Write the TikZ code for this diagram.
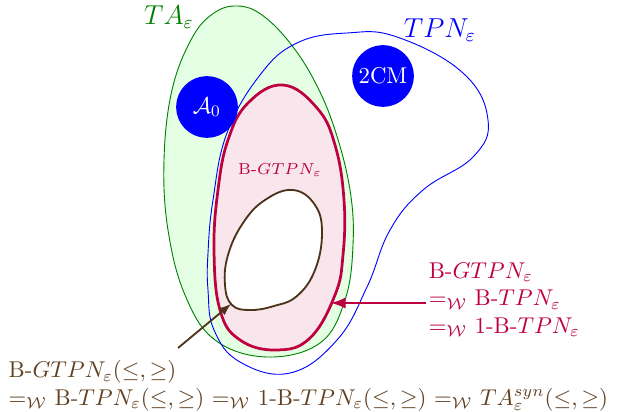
\documentclass[tikz,border=0pt]{standalone}
\usepackage{amssymb}

\begin{document}
\begin{tikzpicture}[x=0.438pt, y=-0.438pt, every node/.style={inner sep=1pt},
  blob/.style={circle, fill=blue, text=white, minimum size=27pt, inner sep=0pt}]

\useasboundingbox (0,0) rectangle (621,412);

% TA region
\draw[green!50!black, fill=green!10] plot[smooth cycle, tension=0.65] coordinates {(238,6) (262,15) (290,43) (315,82) (335,130) (350,190) (353,245) (345,300) (320,343) (267,357) (215,340) (185,295) (168,230) (164,160) (172,90) (192,38) (214,13)};

% TPN region
\draw[blue] plot[smooth cycle, tension=0.7] coordinates {(347,33) (397,37) (463,73) (488,120) (473,157) (423,190) (390,230) (367,287) (337,340) (290,373) (240,362) (214,330) (208,290) (208,253) (213,200) (227,133) (260,75) (297,43)};

% B-GTPN region
\draw[purple, very thick, fill=purple!10] plot[smooth cycle, tension=0.7] coordinates {(283,85) (317,108) (335,145) (344,200) (343,255) (335,295) (310,338) (277,350) (240,340) (220,310) (214,250) (218,190) (228,140) (248,103)};

% inner region
\draw[brown!40!black, thick, fill=white] plot[smooth cycle, tension=0.7] coordinates {(293,190) (315,205) (322,233) (315,270) (297,296) (274,306) (250,310) (232,305) (225,285) (228,255) (243,223) (265,200)};

% Circles
\node[blob] (a0) at (207,107) {$\mathcal{A}_0$};
\node[blob] (cm2) at (383,76) {2CM};

% Labels
\node[text=green!50!black, font=\large] (ta) at (169,17) {$TA_\varepsilon$};
\node[text=blue, font=\large] (tpn) at (440,30) {$TPN_\varepsilon$};
\node[text=purple, font=\scriptsize] (gtpn) at (280,170) {B-$GTPN_\varepsilon$};
\node[text=purple, align=left, anchor=north west] (rlab) at (426,260) {B-$GTPN_\varepsilon$\\
  $=_{\mathcal{W}}$ B-$TPN_\varepsilon$\\
  $=_{\mathcal{W}}$ 1-B-$TPN_\varepsilon$};
\node[text=brown!50!black, align=left, anchor=north west] (blab) at (6,358) {B-$GTPN_\varepsilon(\leq,\geq)$\\
  $=_{\mathcal{W}}$ B-$TPN_\varepsilon(\leq,\geq)$ $=_{\mathcal{W}}$ 1-B-$TPN_\varepsilon(\leq,\geq)$ $=_{\mathcal{W}}$ $TA^{syn}_\varepsilon(\leq,\geq)$};

% Arrows
\coordinate (pinkend) at (331,303);
\coordinate (blobend) at (231,304);
\coordinate (blabstart) at (178,348);
\draw[purple, very thick, -latex] (rlab.west |- pinkend) -- (pinkend);
\draw[brown!40!black, thick, -latex] (blabstart) -- (blobend);

\end{tikzpicture}
\end{document}
